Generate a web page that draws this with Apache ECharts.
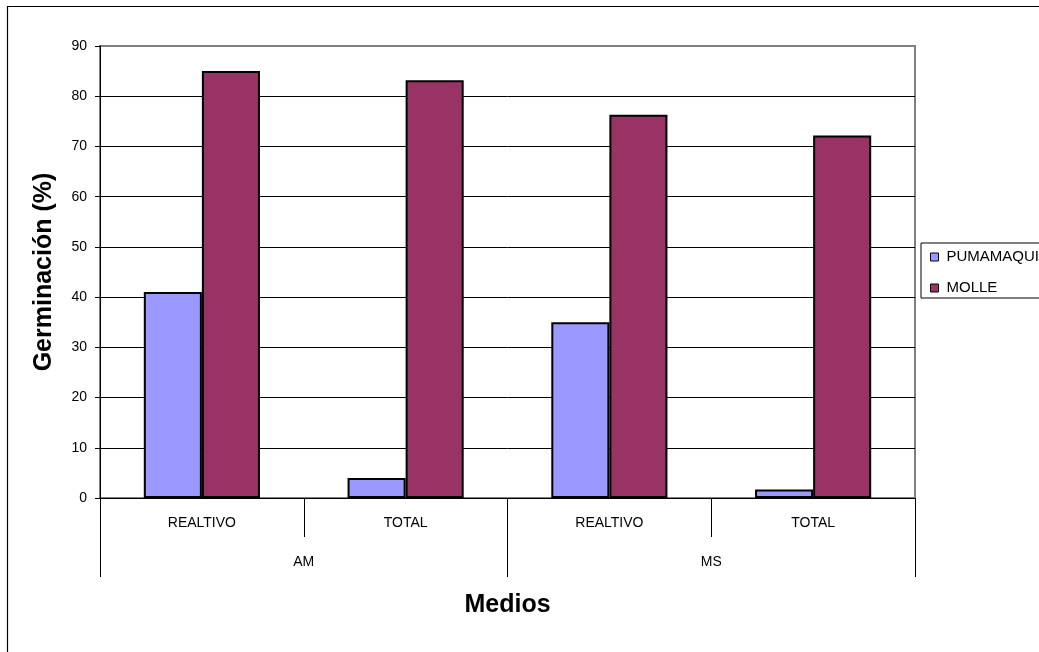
<!DOCTYPE html>
<html>
<head>
<meta charset="utf-8">
<script src="https://cdn.jsdelivr.net/npm/echarts@6/dist/echarts.min.js"></script>
<style>
  html, body { margin: 0; padding: 0; background: #fff; }
  #chart { width: 1039px; height: 652px; }
</style>
</head>
<body>
<div id="chart"></div>
<script>
// Inner category level (tipo) and outer level (medio)
const tipos = ['REALTIVO', 'TOTAL', 'REALTIVO', 'TOTAL'];
const medios = ['AM', 'MS'];

// Germination percentage per species
const pumamaqui = [41, 4, 35, 1.7];
const molle = [85, 83.2, 76.3, 72.2];

const yTicks = { min: 0, max: 90, interval: 10 };

const FONT = '"Liberation Sans", Arial, sans-serif';

const chart = echarts.init(document.getElementById('chart'), null, { renderer: 'canvas' });

chart.setOption({
  animation: false,
  backgroundColor: '#ffffff',
  textStyle: { fontFamily: FONT },
  graphic: [{
    type: 'rect',
    shape: { x: 7.5, y: 6.5, width: 1100, height: 700 },
    style: { fill: 'none', stroke: '#000', lineWidth: 1.2 },
    z: -10
  }],
  grid: {
    left: 100, right: 124, top: 46, bottom: 154,
    show: true, borderColor: '#808080', borderWidth: 2, backgroundColor: '#ffffff'
  },
  legend: {
    orient: 'vertical',
    left: 921, top: 243,
    padding: [6, 40, 2, 9],
    itemGap: 15,
    itemWidth: 8, itemHeight: 8,
    icon: 'rect',
    borderColor: '#000', borderWidth: 1,
    backgroundColor: '#fff',
    itemStyle: { borderColor: '#000', borderWidth: 1 },
    textStyle: { fontFamily: FONT, fontSize: 15, color: '#000', lineHeight: 16, padding: [0, 0, 0, 3] },
    data: ['PUMAMAQUI', 'MOLLE']
  },
  xAxis: [{
    type: 'category',
    data: tipos,
    position: 'bottom',
    boundaryGap: true,
    axisLine: { show: true, lineStyle: { color: '#000', width: 1 } },
    axisTick: { show: true, alignWithLabel: false, length: 39, interval: 0, lineStyle: { color: '#000', width: 1 } },
    axisLabel: { interval: 0, margin: 18, fontSize: 14, color: '#000', fontFamily: FONT }
  }, {
    type: 'category',
    data: medios,
    position: 'bottom',
    boundaryGap: true,
    axisLine: { show: false },
    axisTick: { show: true, alignWithLabel: false, length: 79, interval: 0, lineStyle: { color: '#000', width: 1 } },
    axisLabel: { interval: 0, margin: 57, fontSize: 14, color: '#000', fontFamily: FONT },
    name: 'Medios',
    nameLocation: 'middle',
    nameGap: 107,
    nameTextStyle: { fontSize: 25, fontWeight: 'bold', color: '#000', fontFamily: FONT, verticalAlign: 'middle' }
  }],
  yAxis: {
    type: 'value',
    min: yTicks.min, max: yTicks.max, interval: yTicks.interval,
    name: 'Germinación (%)',
    nameLocation: 'middle',
    nameGap: 56,
    nameRotate: 90,
    nameTextStyle: { fontSize: 25, fontWeight: 'bold', color: '#000', fontFamily: FONT, verticalAlign: 'middle' },
    axisLine: { show: true, lineStyle: { color: '#000', width: 1 } },
    axisTick: { show: true, length: 5, lineStyle: { color: '#000' } },
    axisLabel: { margin: 13, fontSize: 14, color: '#000', fontFamily: FONT },
    splitLine: { show: true, showMaxLine: false, lineStyle: { color: '#000', width: 1 } }
  },
  series: [{
    name: 'PUMAMAQUI',
    type: 'bar',
    xAxisIndex: 0,
    data: pumamaqui,
    barGap: '0%',
    barCategoryGap: '43%',
    itemStyle: { color: '#9999FF', borderColor: '#000', borderWidth: 2 }
  }, {
    name: 'MOLLE',
    type: 'bar',
    xAxisIndex: 0,
    data: molle,
    barGap: '0%',
    barCategoryGap: '43%',
    itemStyle: { color: '#993366', borderColor: '#000', borderWidth: 2 }
  }]
});
</script>
</body>
</html>
